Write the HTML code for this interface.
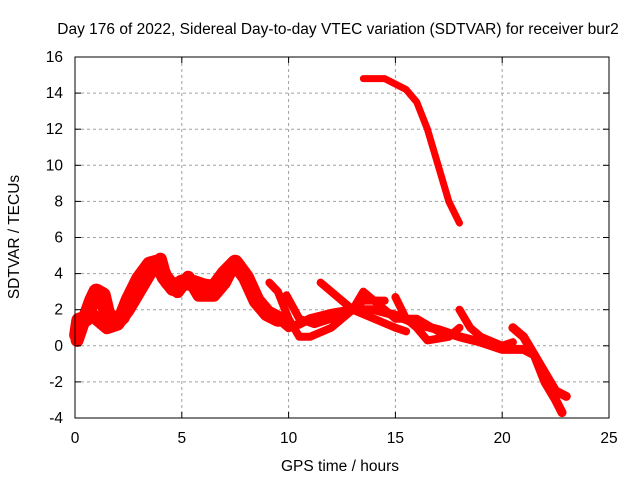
<!DOCTYPE html>
<html><head><meta charset="utf-8"><style>
body{margin:0;background:#fff}
svg{display:block;font-family:"Liberation Sans",sans-serif;font-size:15.5px}
</style></head><body>
<svg id="c" width="640" height="480">
<rect width="640" height="480" fill="#fff"/>
<text x="338" y="34" text-anchor="middle">Day 176 of 2022, Sidereal Day-to-day VTEC variation (SDTVAR) for receiver bur2</text>
<g id="grid"></g>
<g id="series"></g>
<rect x="75" y="57" width="534" height="361" fill="none" stroke="#000"/>
<g id="ticks"></g>
<text x="340" y="471" text-anchor="middle">GPS time / hours</text>
<text transform="translate(19,237) rotate(-90)" text-anchor="middle">SDTVAR / TECUs</text>
</svg>
<script>
const xTicks=[0,5,10,15,20,25];
const yTicks=[-4,-2,0,2,4,6,8,10,12,14,16];
const trackEarly=[[0.1,0.6],[0.2,1.4],[0.5,1.5],[0.8,2.5],[1.0,3.0],[1.3,2.8],[1.5,1.8],[1.8,1.4],[2.2,1.6],[2.5,2.5],[3.0,3.7],[3.5,4.5],[3.8,4.6],[4.0,4.3],[4.2,3.8],[4.6,3.2],[5.0,3.5],[5.5,3.5],[6.0,3.3],[6.5,3.2],[7.0,4.0],[7.5,4.6],[8.0,3.8],[8.5,2.5],[9.0,1.8],[9.5,1.5]];
const trackMain=[[9.5,1.5],[10,1.0],[10.5,1.2],[11,1.5],[12,1.8],[13,2.0],[14,2.0],[15,1.7],[16,1.2],[17,0.9],[18,0.5],[19,0.2],[20,-0.2],[21,-0.2],[21.5,-0.5],[22,-2],[22.5,-3],[22.8,-3.7]];
const trackEarly2=[[0.1,0.3],[0.3,1.0],[0.6,2.0],[1.0,1.5],[1.5,1.0],[2.0,1.2],[2.5,2.0],[3.0,3.0],[3.5,4.0],[4.0,4.8],[4.3,3.5],[4.8,3.0],[5.3,3.8],[5.8,2.8],[6.5,2.8],[7.0,3.5],[7.3,4.2]];
const trackB=[[9.1,3.5],[9.5,3.0],[10,1.5],[10.5,0.5],[11,0.5],[12,1.0],[13,2.0],[13.5,2.5],[14.5,2.5]];
const trackC=[[9.9,2.8],[10.5,1.5],[11.2,1.2],[12,1.5],[13,2.0],[14,1.5],[15,1.0],[15.5,0.8]];
const trackD=[[11.5,3.5],[12.5,2.5],[13,2.0],[13.5,3.0],[14,2.5],[15,1.5],[16,1.5],[17,0.8],[18,0.5]];
const trackE=[[15,2.7],[15.5,1.5],[16,1.0],[16.5,0.3],[17.5,0.5],[18,1.0]];
const trackF=[[18,2.0],[18.5,1.0],[19,0.5],[20,0],[20.5,0.2]];
const trackG=[[20.5,1.0],[21,0.5],[21.5,-0.5],[22,-1.5],[22.5,-2.5],[23,-2.8]];
const trackH=[[13.5,14.8],[14.5,14.8],[15.5,14.2],[16,13.5],[16.5,12],[17,10],[17.5,8],[18,6.8]];
const tracks=[trackEarly,trackEarly2,trackMain,trackB,trackC,trackD,trackE,trackF,trackG,trackH];
const widths=[16,13,9,8,8,8,8,8,9,7];
const X=v=>75+v*534/25, Y=v=>418-(v+4)*361/20;
const NS="http://www.w3.org/2000/svg";
const grid=document.getElementById('grid'),tk=document.getElementById('ticks'),ser=document.getElementById('series');
function mk(p,t,a){const e=document.createElementNS(NS,t);for(const k in a)e.setAttribute(k,a[k]);p.appendChild(e);return e;}
xTicks.forEach(v=>{
 if(v>0&&v<25){const g=mk(grid,'line',{x1:X(v),x2:X(v),y1:57,y2:418,stroke:'#a0a0a0','stroke-dasharray':'3,3'});
 
 }
 const t=mk(tk,'text',{x:X(v),y:443,'text-anchor':'middle'});t.textContent=v;
 
 
 mk(tk,'line',{x1:X(v),x2:X(v),y1:418,y2:412,stroke:'#000'});mk(tk,'line',{x1:X(v),x2:X(v),y1:57,y2:63,stroke:'#000'});
});
yTicks.forEach(v=>{
 if(v>-4&&v<16){const g=mk(grid,'line',{x1:75,x2:609,y1:Y(v),y2:Y(v),stroke:'#a0a0a0','stroke-dasharray':'3,3'});
 
 }
 const t=mk(tk,'text',{x:63,y:Y(v)+5,'text-anchor':'end'});t.textContent=v;
 
 
 mk(tk,'line',{x1:75,x2:81,y1:Y(v),y2:Y(v),stroke:'#000'});mk(tk,'line',{x1:609,x2:603,y1:Y(v),y2:Y(v),stroke:'#000'});
});
tracks.forEach((tr,i)=>{
 const p=mk(ser,'polyline',{points:tr.map(d=>X(d[0])+','+Y(d[1])).join(' '),fill:'none',stroke:'#f00','stroke-width':widths[i],'stroke-linejoin':'round','stroke-linecap':'round'});
 
 
});
</script>
</body></html>
